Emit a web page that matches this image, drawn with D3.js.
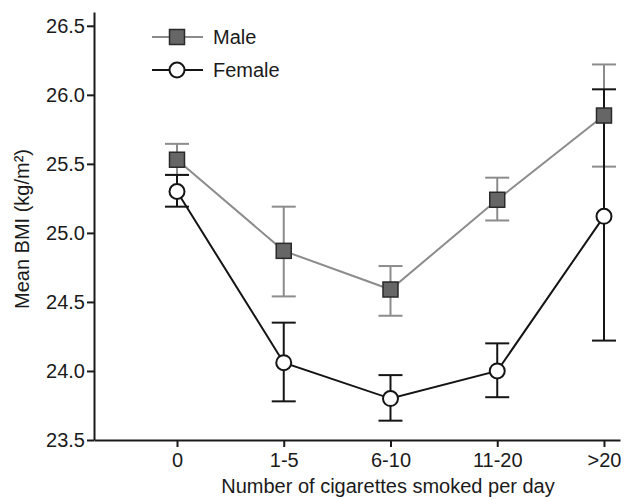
<!DOCTYPE html>
<html>
<head>
<meta charset="utf-8">
<script src="https://cdn.jsdelivr.net/npm/d3@7"></script>
<style>
  body { margin: 0; background: #fff; }
  svg { font-family: "Liberation Sans", Arial, sans-serif; }
</style>
</head>
<body>
<figure style="margin:0"></figure>
<script>
const width = 632
const height = 500

// data
const categories = ['0', '1-5', '6-10', '11-20', '>20']
const maleMean = [25.53, 24.87, 24.59, 25.24, 25.85]
const maleLow = [25.42, 24.54, 24.40, 25.09, 25.48]
const maleHigh = [25.645, 25.19, 24.76, 25.40, 26.22]
const femaleMean = [25.30, 24.06, 23.80, 24.00, 25.12]
const femaleLow = [25.19, 23.78, 23.64, 23.81, 24.22]
const femaleHigh = [25.42, 24.35, 23.97, 24.20, 26.04]
const yTicks = [23.5, 24.0, 24.5, 25.0, 25.5, 26.0, 26.5]

const series = [
  { name: 'Male', mean: maleMean, low: maleLow, high: maleHigh, color: '#8c8c8c', marker: 'square' },
  { name: 'Female', mean: femaleMean, low: femaleLow, high: femaleHigh, color: '#151515', marker: 'circle' }
]

const svg = d3.select('figure').append('svg')
  .attr('width', width)
  .attr('height', height)

// Scales
const x = d3.scaleLinear().domain([-0.7775, 4.15]).range([94, 620])
const y = d3.scaleLinear().domain([23.5, 26.6]).range([440, 12])

// Axes
svg.append('g')
  .attr('transform', 'translate(94,0)')
  .call(d3.axisLeft(y).tickValues(yTicks).tickFormat(d3.format('.1f')).tickSize(7).tickPadding(2).tickSizeOuter(0))
svg.append('g')
  .attr('transform', 'translate(0,440)')
  .call(d3.axisBottom(x).tickValues(d3.range(categories.length)).tickFormat(i => categories[i]).tickSize(7).tickPadding(6).tickSizeOuter(0))

svg.selectAll('.domain, .tick line').attr('stroke', '#1a1a1a').attr('stroke-width', 2)
svg.selectAll('.tick text').attr('fill', '#1a1a1a').style('font-size', '20px')

svg.append('text')
  .attr('x', 388)
  .attr('y', 493)
  .attr('text-anchor', 'middle')
  .style('font-size', '20px')
  .attr('fill', '#1a1a1a')
  .text('Number of cigarettes smoked per day')

svg.append('text')
  .attr('transform', 'translate(29,229) rotate(-90)')
  .attr('text-anchor', 'middle')
  .style('font-size', '20px')
  .attr('fill', '#1a1a1a')
  .text('Mean BMI (kg/m²)')

const line = d3.line()
  .x((d, i) => x(i))
  .y(d => y(d))

const capW = 12

// lines and error bars
series.forEach(s => {
  svg.append('path')
    .attr('d', line(s.mean))
    .attr('fill', 'none')
    .attr('stroke', s.color)
    .attr('stroke-width', 2)

  const bars = svg.append('g').attr('stroke', s.color).attr('stroke-width', 2)
  s.mean.forEach((m, i) => {
    bars.append('line')
      .attr('x1', x(i)).attr('x2', x(i))
      .attr('y1', y(s.low[i])).attr('y2', y(s.high[i]))
    bars.append('line')
      .attr('x1', x(i) - capW).attr('x2', x(i) + capW)
      .attr('y1', y(s.low[i])).attr('y2', y(s.low[i]))
    bars.append('line')
      .attr('x1', x(i) - capW).attr('x2', x(i) + capW)
      .attr('y1', y(s.high[i])).attr('y2', y(s.high[i]))
  })
})

const drawMarker = (g, s, cx, cy) => {
  if (s.marker === 'square') {
    g.append('rect')
      .attr('x', cx - 7.5).attr('y', cy - 7.5)
      .attr('width', 15).attr('height', 15)
      .attr('fill', '#666')
      .attr('stroke', '#2a2a2a')
      .attr('stroke-width', 1.5)
  } else {
    g.append('circle')
      .attr('cx', cx).attr('cy', cy)
      .attr('r', 7.5)
      .attr('fill', '#fff')
      .attr('stroke', '#151515')
      .attr('stroke-width', 2)
  }
}

// markers
series.forEach(s => {
  const g = svg.append('g')
  s.mean.forEach((m, i) => drawMarker(g, s, x(i), y(m)))
})

// legend
series.forEach((s, k) => {
  const ly = 37 + k * 33
  const g = svg.append('g')
  g.append('line')
    .attr('x1', 152).attr('x2', 203)
    .attr('y1', ly).attr('y2', ly)
    .attr('stroke', s.color)
    .attr('stroke-width', 2)
  drawMarker(g, s, 177, ly)
  g.append('text')
    .attr('x', 213)
    .attr('y', ly)
    .attr('dy', '0.35em')
    .style('font-size', '20px')
    .attr('fill', '#1a1a1a')
    .text(s.name)
})
</script>
</body>
</html>
